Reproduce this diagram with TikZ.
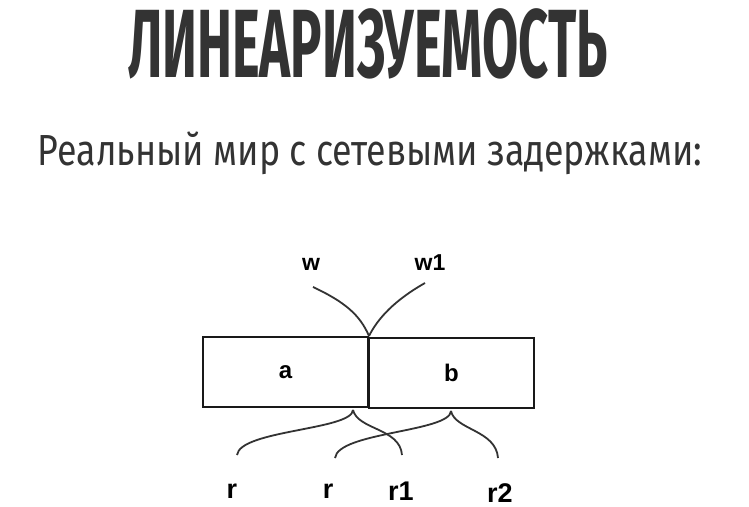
\documentclass[tikz,border=0pt]{standalone}
\usepackage{fontspec}
\usepackage{graphicx}
\setmainfont{Liberation Sans}
\newfontfamily\headfont{Fira Sans}
\definecolor{ink}{HTML}{333333}

\begin{document}
\begin{tikzpicture}[x=1pt, y=-1pt,
    box style/.style={draw=black!90, line width=2.8pt, minimum width=165pt, minimum height=70pt, inner sep=0pt, font=\bfseries\fontsize{24}{26}\selectfont},
    wire style/.style={draw=ink, line width=1.8pt},
    label style/.style={anchor=base, font=\bfseries\fontsize{23}{26}\selectfont},
    rlabel style/.style={anchor=base, font=\bfseries\fontsize{27}{30}\selectfont},]
    \useasboundingbox[fill=white] (0,0) rectangle (749,506);

    % headings
    \node[anchor=base, text=ink] (title) at (368,77) {\resizebox{480pt}{\height}{\headfont\bfseries\fontsize{97}{100}\selectfont ЛИНЕАРИЗУЕМОСТЬ}};
    \node[anchor=base, text=ink] (subtitle) at (370,165) {\resizebox{664pt}{\height}{\headfont\fontsize{43.5}{48}\selectfont Реальный мир с сетевыми задержками:}};

    % registers
    \node[style=box style] (a) at (285.5,372) {a};
    \node[style=box style] (b) at (451.5,373) {b};

    % writers
    \node[style=label style] (w) at (311,270) {w};
    \node[style=label style] (w1) at (430,270) {w1};
    \coordinate (wtop) at (313,287);
    \coordinate (w1top) at (425,283);
    \coordinate (wjoin) at (369,336);
    \draw[style=wire style] (wtop) .. controls (345,302) and (360,315) .. (wjoin);
    \draw[style=wire style] (w1top) .. controls (395,300) and (378,318) .. (wjoin);

    % readers
    \node[style=rlabel style] (r) at (232,498) {r};
    \node[style=rlabel style] (rr) at (328,498) {r};
    \node[style=rlabel style] (r1) at (401,500) {r1};
    \node[style=rlabel style] (r2) at (500,502) {r2};
    \coordinate (ajoin) at (353,410);
    \coordinate (bjoin) at (451,411);
    \coordinate (rend) at (237,455);
    \coordinate (rrend) at (335,458);
    \coordinate (r1end) at (402,455);
    \coordinate (r2end) at (498,458);
    \draw[style=wire style] (ajoin) .. controls (352,430) and (240,430) .. (rend);
    \draw[style=wire style] (ajoin) .. controls (358,430) and (400,428) .. (r1end);
    \draw[style=wire style] (bjoin) .. controls (450,432) and (338,432) .. (rrend);
    \draw[style=wire style] (bjoin) .. controls (455,430) and (496,430) .. (r2end);

\end{tikzpicture}
\end{document}
